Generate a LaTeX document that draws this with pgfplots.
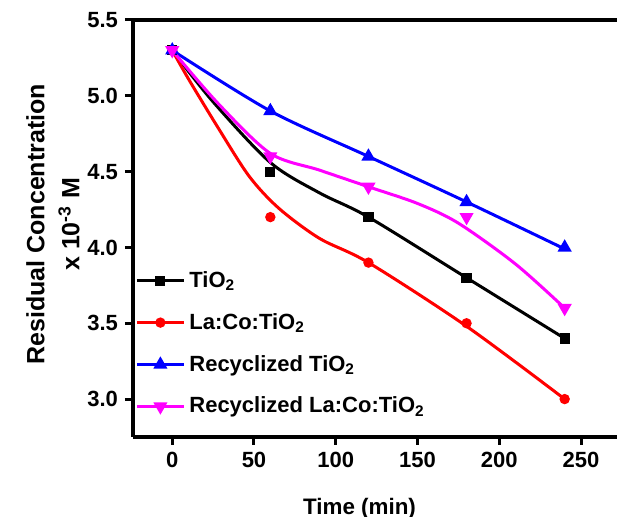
\documentclass[border=0pt]{standalone}
\usepackage{pgfplots}
\pgfplotsset{compat=1.18}
\usepackage{fontspec}
\setmainfont{Liberation Sans}
\definecolor{mag}{RGB}{255,0,255}
\definecolor{myred}{RGB}{255,0,0}
\definecolor{myblue}{RGB}{0,0,255}
\pgfplotsset{linemark legend/.style={legend image code/.code={\draw[##1, sharp plot, mark repeat=2, mark phase=2] plot coordinates {(0pt,0pt) (11.75pt,0pt) (23.5pt,0pt)};}}}
\begin{document}
\begin{tikzpicture}
\begin{axis}[
  scale only axis, width=242pt, height=208.5pt,
  xmin=-24, xmax=272, ymin=2.75, ymax=5.5,
  axis x line*=box, axis y line*=left,
  axis line style={line width=1.6pt, black},
  xtick={0,50,...,250}, ytick={3,3.5,...,5.5},
  xtick pos=bottom, ytick pos=left,
  tick align=outside, major tick length=4pt,
  tick style={line width=1.5pt, black},
  minor tick num=0,
  /pgf/number format/assume math mode=true,
  tick label style={font=\fontsize{11}{13}\selectfont\bfseries},
  yticklabel style={/pgf/number format/.cd, fixed, fixed zerofill, precision=1},
  xlabel={Time (min)},
  xlabel style={font=\fontsize{11.2}{13}\selectfont\bfseries, at={(axis description cs:0.468,0)}, anchor=base, yshift=-39pt, inner sep=0pt},
  ylabel={Residual Concentration\\x 10\textsuperscript{-3} M},
  ylabel style={font=\fontsize{12.5}{17.5}\selectfont\bfseries, align=center, at={(axis description cs:-0.1095,0.51)}, anchor=south, rotate=0, inner sep=0pt},
  legend style={at={(axis description cs:0.0,0.224)}, anchor=west, draw=none, fill=none,
    font=\fontsize{11}{13}\selectfont\bfseries, row sep=7.5pt, inner sep=1pt},
  legend cell align=left,
  clip=false,
]
% smooth curves
\addplot[black, line width=1.5pt, smooth, tension=0.5, forget plot] coordinates {
 (0,5.30) (25,4.96) (60,4.56) (90,4.36) (120,4.20) (180,3.80) (240,3.40)};
\addplot[myred, line width=1.5pt, smooth, tension=0.5, forget plot] coordinates {
 (0,5.30) (10,5.11) (28,4.79) (47,4.47) (65,4.26) (90,4.06) (120,3.90) (180,3.48) (240,3.00)};
\addplot[myblue, line width=1.5pt, smooth, tension=0.5, forget plot] coordinates {
 (0,5.30) (60,4.90) (120,4.60) (180,4.30) (240,3.99)};
\addplot[mag, line width=1.5pt, smooth, tension=0.5, forget plot] coordinates {
 (0,5.30) (28,4.95) (60,4.62) (90,4.51) (120,4.40) (150,4.29) (175,4.16) (210,3.89) (240,3.60)};
% data markers
\addplot[black, line width=1.5pt, only marks, mark=square*, mark size=1.8pt, linemark legend]
  coordinates {(0,5.3) (60,4.5) (120,4.2) (180,3.8) (240,3.4)};
\addlegendentry{TiO\textsubscript{2}}
\addplot[myred, line width=1.5pt, only marks, mark=*, mark size=1.8pt, linemark legend]
  coordinates {(0,5.3) (60,4.2) (120,3.9) (180,3.5) (240,3.0)};
\addlegendentry{La:Co:TiO\textsubscript{2}}
\addplot[myblue, line width=1.5pt, only marks, mark=triangle*, mark size=2.6pt, linemark legend]
  coordinates {(0,5.3) (60,4.9) (120,4.6) (180,4.3) (240,4.0)};
\addlegendentry{Recyclized TiO\textsubscript{2}}
\addplot[mag, line width=1.5pt, only marks, mark=triangle*, mark size=2.6pt, mark options={rotate=180}, linemark legend]
  coordinates {(0,5.3) (60,4.6) (120,4.4) (180,4.2) (240,3.6)};
\addlegendentry{Recyclized La:Co:TiO\textsubscript{2}}
\end{axis}
\pgfresetboundingbox
\path (-66.5pt,-40pt) rectangle (242.5pt,218.5pt);
\end{tikzpicture}
\end{document}
